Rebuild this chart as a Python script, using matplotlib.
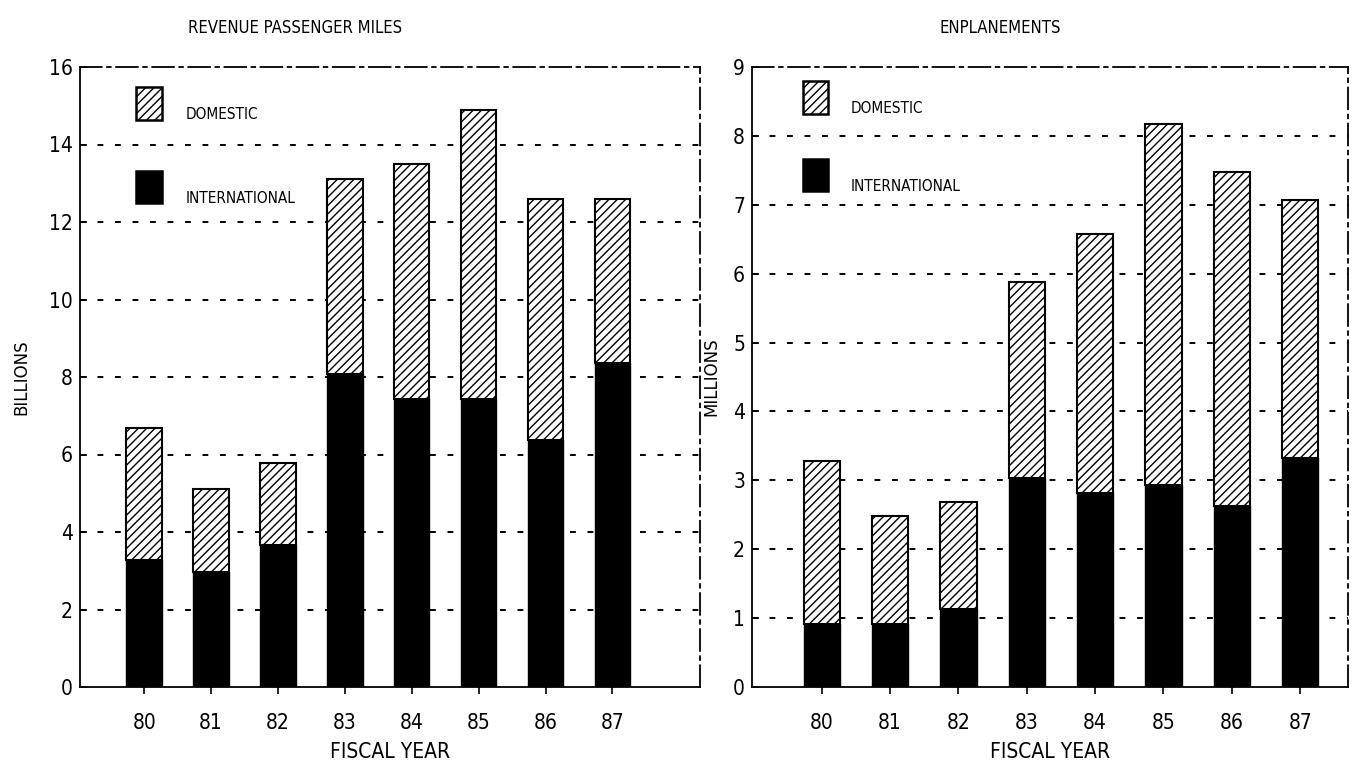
import matplotlib
matplotlib.use("Agg")
import matplotlib.pyplot as plt
from matplotlib.patches import Rectangle
from matplotlib import font_manager
import numpy as np

years = ["80", "81", "82", "83", "84", "85", "86", "87"]

# Revenue passenger miles (billions)
rpm_total = [6.68, 5.10, 5.78, 13.10, 13.50, 14.90, 12.60, 12.60]
rpm_intl = [3.27, 2.98, 3.67, 8.08, 7.43, 7.42, 6.38, 8.35]

# Enplanements (millions)
enp_total = [3.28, 2.48, 2.68, 5.88, 6.57, 8.17, 7.47, 7.07]
enp_intl = [0.92, 0.92, 1.13, 3.03, 2.82, 2.93, 2.63, 3.33]

names = {f.name for f in font_manager.fontManager.ttflist}
if "Liberation Sans Narrow" in names:
    NARROW = dict(family="Liberation Sans Narrow")
else:
    NARROW = dict(family="DejaVu Sans", stretch="condensed")

W, H = 1361, 767
fig = plt.figure(figsize=(W / 100, H / 100), dpi=100)

def px_axes(l, r, t, b):
    return fig.add_axes([l / W, (H - b) / H, (r - l) / W, (b - t) / H])

def draw(ax, total, intl, ymax, xlim, legpos):
    x = np.arange(len(years))
    dom = [t - i for t, i in zip(total, intl)]
    ax.bar(x, intl, width=0.53, color="black", edgecolor="black", linewidth=1, zorder=3)
    ax.bar(x, dom, bottom=intl, width=0.53, color="white", edgecolor="black",
           hatch="////", linewidth=1.5, zorder=3)
    ax.set_xlim(*xlim)
    ax.set_ylim(0, ymax)
    ax.set_yticks(range(0, ymax + 1, 2 if ymax > 10 else 1))
    ax.set_xticks(x)
    ax.set_xticklabels(years)
    for lab in ax.get_xticklabels() + ax.get_yticklabels():
        lab.set_fontproperties(font_manager.FontProperties(size=15, **NARROW))
    for yv in ax.get_yticks()[1:-1]:
        ax.axhline(yv, color="black", linestyle=(0, (3, 6)), linewidth=1.4, zorder=1)
    ax.spines["top"].set_linestyle((0, (12, 3, 2, 3)))
    ax.spines["right"].set_linestyle((0, (12, 3, 2, 3)))
    for s in ax.spines.values():
        s.set_linewidth(1.3)
    ax.tick_params(axis="y", length=5, width=1.2, direction="in", pad=5)
    ax.tick_params(axis="x", direction="out", length=5, width=1.2, pad=14)
    ax.set_xlabel("FISCAL YEAR", fontsize=15, labelpad=6, **NARROW)
    # legend
    lx, ly1, ly2 = legpos
    ax.add_patch(Rectangle((lx, ly1), 0.042, 0.052, transform=ax.transAxes,
                           facecolor="white", edgecolor="black", hatch="////",
                           linewidth=1.8, zorder=5))
    ax.add_patch(Rectangle((lx, ly2), 0.042, 0.052, transform=ax.transAxes,
                           facecolor="black", edgecolor="black", linewidth=1.8, zorder=5))
    ax.text(lx + 0.08, ly1 + 0.008, "DOMESTIC", transform=ax.transAxes,
            fontsize=11, va="center", **NARROW)
    ax.text(lx + 0.08, ly2 + 0.008, "INTERNATIONAL", transform=ax.transAxes,
            fontsize=11, va="center", **NARROW)

ax1 = px_axes(80, 700, 67, 687)
draw(ax1, rpm_total, rpm_intl, 16, (-0.96, 8.31), (0.09, 0.915, 0.78))
ax1.set_ylabel("BILLIONS", fontsize=12)
ax1.yaxis.set_label_coords(-0.08, 0.5)

ax2 = px_axes(752, 1348, 67, 687)
draw(ax2, enp_total, enp_intl, 9, (-1.02, 7.70), (0.085, 0.925, 0.8))
ax2.set_ylabel("MILLIONS", fontsize=12)
ax2.yaxis.set_label_coords(-0.053, 0.5)

fig.text(295 / W, 1 - 28 / H, "REVENUE PASSENGER MILES", ha="center", va="center",
         fontsize=12, **NARROW)
fig.text(1000 / W, 1 - 28 / H, "ENPLANEMENTS", ha="center", va="center",
         fontsize=12, **NARROW)

fig.savefig("out.png", dpi=100)
